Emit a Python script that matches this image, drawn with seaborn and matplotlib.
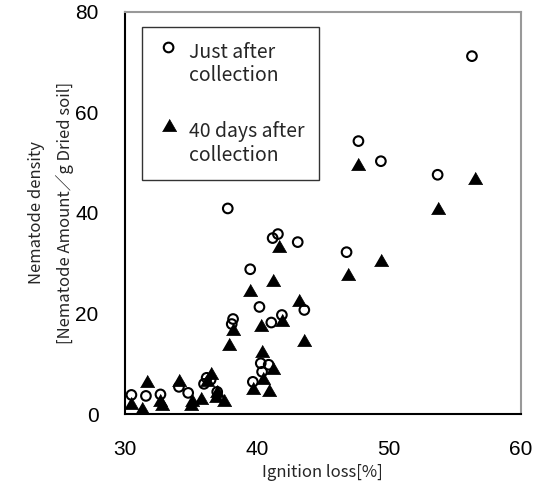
import pandas as pd
import matplotlib
matplotlib.use("Agg")
import matplotlib.pyplot as plt
from matplotlib.collections import PathCollection
from matplotlib.legend_handler import HandlerPathCollection
import seaborn as sns

# Just after collection (open circles)
just_x = [30.5, 31.6, 32.7, 34.1, 34.8, 36.2, 36.5, 36.0, 37.0, 37.8, 38.2, 38.1,
          39.5, 39.7, 40.2, 40.4, 40.9, 40.3, 41.1, 41.2, 41.6, 41.9, 43.1, 43.6,
          46.8, 47.7, 49.4, 53.7, 56.3]
just_y = [3.8, 3.6, 3.9, 5.4, 4.2, 7.2, 6.8, 6.0, 4.4, 40.9, 18.9, 17.9,
          28.8, 6.4, 21.3, 8.4, 9.8, 10.1, 18.2, 35.0, 35.8, 19.7, 34.2, 20.7,
          32.2, 54.3, 50.3, 47.6, 71.2]

# 40 days after collection (filled triangles)
days40_x = [30.5, 31.3, 31.7, 32.7, 32.8, 34.1, 35.1, 35.0, 35.8, 36.2, 36.5,
            36.9, 37.0, 37.5, 37.9, 38.2, 39.5, 39.7, 40.3, 40.4, 40.5, 40.9,
            41.2, 41.2, 41.7, 41.9, 43.2, 43.6, 46.9, 47.7, 49.4, 53.7, 56.5]
days40_y = [1.8, 0.8, 6.2, 2.4, 1.5, 6.4, 2.4, 1.6, 2.8, 6.4, 7.8,
            3.2, 4.2, 2.4, 13.5, 16.5, 24.3, 4.8, 17.3, 12.1, 6.8, 4.4,
            8.8, 26.3, 33.0, 18.3, 22.3, 14.3, 27.5, 49.4, 30.2, 40.6, 46.6]

x_ticks = [30, 40, 50, 60]
y_ticks = [0, 20, 40, 60, 80]

sns.set_style("white")
jp_font = ["Noto Sans CJK JP", "DejaVu Sans"]
num_font = ["Liberation Sans", "DejaVu Sans"]

just_df = pd.DataFrame({"x": just_x, "y": just_y})
days_df = pd.DataFrame({"x": days40_x, "y": days40_y})

# equilateral triangle marker
tri = [(-1, -0.577), (1, -0.577), (0, 1.155)]

fig = plt.figure(figsize=(5.38, 4.97), dpi=100)
ax = fig.add_axes([0.232, 0.167, 0.736, 0.809])

sns.scatterplot(data=just_df, x="x", y="y", ax=ax, marker="o", s=48,
                facecolor="none", edgecolor="black", linewidth=1.5,
                label="Just after\ncollection")
sns.scatterplot(data=days_df, x="x", y="y", ax=ax, marker=tri, s=140,
                color="black", edgecolor="black", linewidth=0.5,
                label="40 days after\ncollection")

ax.set_xlim(30, 60)
ax.set_ylim(0, 80)
ax.set_xticks(x_ticks)
ax.set_yticks(y_ticks)
ax.tick_params(direction="in", length=6, width=1, colors="black", pad=19)
for lab in ax.get_xticklabels() + ax.get_yticklabels():
    lab.set_fontfamily(num_font)
    lab.set_fontsize(15)

ax.set_xlabel("Ignition loss[%]", fontfamily=jp_font, fontsize=12, labelpad=3)
ax.set_ylabel("Nematode density\n[Nematode Amount／g Dried soil]",
              fontfamily=jp_font, fontsize=12, linespacing=1.75)
ax.yaxis.set_label_coords(-0.128, 0.5)

for side in ["left", "bottom"]:
    ax.spines[side].set_color("black")
    ax.spines[side].set_linewidth(1.5)
for side in ["top", "right"]:
    ax.spines[side].set_color("#999999")
    ax.spines[side].set_linewidth(1.5)

leg = ax.legend(loc="upper left", bbox_to_anchor=(0.043, 0.962), borderaxespad=0,
                frameon=True, fancybox=False, edgecolor="black", borderpad=0.75,
                labelspacing=1.8, handletextpad=0.4, handlelength=1.25,
                handler_map={PathCollection: HandlerPathCollection(yoffsets=[1.8])},
                prop={"family": jp_font, "size": 14})
leg.get_frame().set_linewidth(1.0)
for t in leg.get_texts():
    t.set_linespacing(1.15)

fig.savefig("out.png", dpi=100)
